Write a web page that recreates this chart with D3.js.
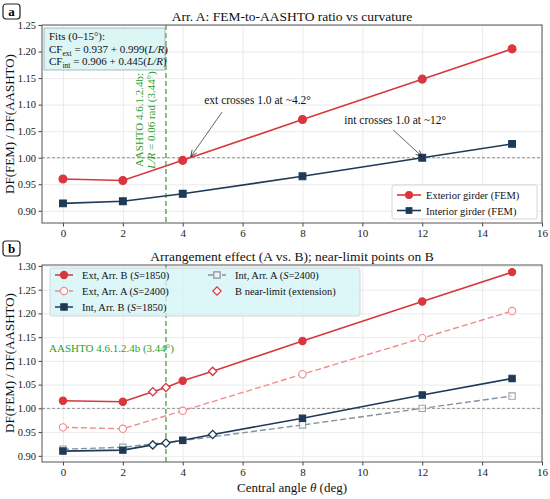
<!DOCTYPE html>
<html>
<head>
<meta charset="utf-8">
<script src="https://cdn.jsdelivr.net/npm/d3@7"></script>
<style>
  body { margin: 0; background: #fff; }
  svg { font-family: 'Liberation Serif', 'DejaVu Serif', serif; }
</style>
</head>
<body>
<div class="display"></div>
<script>
const WIDTH = 550;
const HEIGHT = 499;

const RED = '#d9363e';
const NAVY = '#1f3a56';
const PINK = '#f08a8d';
const GREY = '#8592a0';
const GREEN = '#2ca02c';

// data
const ANGLES = [0, 2, 4, 8, 12, 15];
const EXT_A = [0.960, 0.957, 0.995, 1.072, 1.148, 1.205];
const INT_A = [0.914, 0.918, 0.932, 0.965, 1.000, 1.026];
const EXT_B = [1.016, 1.014, 1.058, 1.142, 1.225, 1.287];
const INT_B = [0.910, 0.912, 0.933, 0.979, 1.028, 1.063];
const NEAR_ANGLES = [3, 3.44, 5];
const NEAR_EXT_B = [1.035, 1.044, 1.078];
const NEAR_INT_B = [0.923, 0.927, 0.945];
const LIMIT_ANGLE = 3.44;

const X_TICKS = [0, 2, 4, 6, 8, 10, 12, 14, 16];
const Y_TICKS_A = [0.90, 0.95, 1.00, 1.05, 1.10, 1.15, 1.20, 1.25];
const Y_TICKS_B = [0.90, 0.95, 1.00, 1.05, 1.10, 1.15, 1.20, 1.25, 1.30];

const svg = d3.select('.display')
  .append('svg')
  .attr('width', WIDTH)
  .attr('height', HEIGHT);

function pts(xs, ys) {
  return xs.map((x, i) => ({ x: x, y: ys[i] }));
}

function merged(xs, ys, nx, ny) {
  return pts(xs, ys).concat(pts(nx, ny)).sort((a, b) => a.x - b.x);
}

function makePanel(box, yDomain, yTicks) {
  const x = d3.scaleLinear().domain([-0.7, 16]).range([box.left, box.right]);
  const y = d3.scaleLinear().domain(yDomain).range([box.bottom, box.top]);
  const g = svg.append('g');

  // grid
  g.append('g')
    .attr('transform', `translate(0, ${box.bottom})`)
    .call(d3.axisBottom(x).tickValues(X_TICKS).tickSize(-(box.bottom - box.top)).tickFormat(''))
    .call(a => a.select('.domain').remove())
    .call(a => a.selectAll('line').attr('stroke', '#e6e6e6').attr('stroke-width', 0.8));
  g.append('g')
    .attr('transform', `translate(${box.left}, 0)`)
    .call(d3.axisLeft(y).tickValues(yTicks).tickSize(-(box.right - box.left)).tickFormat(''))
    .call(a => a.select('.domain').remove())
    .call(a => a.selectAll('line').attr('stroke', '#e6e6e6').attr('stroke-width', 0.8));

  // axes
  g.append('g')
    .attr('transform', `translate(0, ${box.bottom})`)
    .call(d3.axisBottom(x).tickValues(X_TICKS).tickSize(3.5).tickPadding(3).tickFormat(d3.format('d')))
    .call(a => a.select('.domain').remove())
    .call(a => a.selectAll('line').attr('stroke', '#444'))
    .call(a => a.selectAll('text').attr('font-size', 11).attr('font-family', 'Liberation Serif').attr('fill', '#222'));
  g.append('g')
    .attr('transform', `translate(${box.left}, 0)`)
    .call(d3.axisLeft(y).tickValues(yTicks).tickSize(3.5).tickPadding(2.5).tickFormat(d3.format('.2f')))
    .call(a => a.select('.domain').remove())
    .call(a => a.selectAll('line').attr('stroke', '#444'))
    .call(a => a.selectAll('text').attr('font-size', 10.5).attr('font-family', 'Liberation Serif').attr('fill', '#222'));

  // reference line at 1.0 and limit line
  g.append('line')
    .attr('x1', box.left).attr('x2', box.right)
    .attr('y1', y(1)).attr('y2', y(1))
    .attr('stroke', '#888').attr('stroke-width', 0.9).attr('stroke-dasharray', '3,2');
  g.append('line')
    .attr('x1', x(LIMIT_ANGLE)).attr('x2', x(LIMIT_ANGLE))
    .attr('y1', box.top).attr('y2', box.bottom)
    .attr('stroke', GREEN).attr('stroke-width', 1.2).attr('stroke-dasharray', '5,3');

  return { x, y, g, box };
}

function frame(p) {
  p.g.append('rect')
    .attr('x', p.box.left).attr('y', p.box.top)
    .attr('width', p.box.right - p.box.left).attr('height', p.box.bottom - p.box.top)
    .attr('fill', 'none').attr('stroke', '#555').attr('stroke-width', 1);
}

function drawLine(p, data, color, width, dash) {
  p.g.append('path')
    .datum(data)
    .attr('d', d3.line().x(d => p.x(d.x)).y(d => p.y(d.y)))
    .attr('fill', 'none')
    .attr('stroke', color)
    .attr('stroke-width', width)
    .attr('stroke-dasharray', dash || null);
}

function drawMarkers(p, data, shape, size, fill, stroke) {
  p.g.selectAll(null)
    .data(data)
    .enter()
    .append('path')
    .attr('transform', d => `translate(${p.x(d.x)}, ${p.y(d.y)})`)
    .attr('d', d3.symbol().type(shape).size(size))
    .attr('fill', fill)
    .attr('stroke', stroke)
    .attr('stroke-width', 1.1);
}

function diamond(p, data, color) {
  p.g.selectAll(null)
    .data(data)
    .enter()
    .append('path')
    .attr('transform', d => `translate(${p.x(d.x)}, ${p.y(d.y)}) rotate(45)`)
    .attr('d', d3.symbol().type(d3.symbolSquare).size(34))
    .attr('fill', '#fff')
    .attr('stroke', color)
    .attr('stroke-width', 1.3);
}

function panelLabel(txt, x, y) {
  svg.append('rect')
    .attr('x', x).attr('y', y).attr('width', 17).attr('height', 15)
    .attr('rx', 3).attr('fill', '#fff').attr('stroke', '#222').attr('stroke-width', 1.2);
  svg.append('text')
    .attr('x', x + 8.5).attr('y', y + 11.5)
    .attr('text-anchor', 'middle')
    .attr('font-size', 13).attr('font-weight', 'bold')
    .text(txt);
}

function title(txt, yPos) {
  svg.append('text')
    .attr('x', 292).attr('y', yPos)
    .attr('text-anchor', 'middle')
    .attr('font-size', 13.5)
    .attr('fill', '#111')
    .text(txt);
}

function yLabel(yc) {
  svg.append('text')
    .attr('transform', `translate(14, ${yc}) rotate(-90)`)
    .attr('text-anchor', 'middle')
    .attr('font-size', 13)
    .attr('fill', '#111')
    .text('DF(FEM) / DF(AASHTO)');
}

function arrow(p, x1, y1, x2, y2) {
  const ang = Math.atan2(y2 - y1, x2 - x1);
  const h = 7;
  p.g.append('line')
    .attr('x1', x1).attr('y1', y1).attr('x2', x2).attr('y2', y2)
    .attr('stroke', '#222').attr('stroke-width', 0.7);
  p.g.append('path')
    .attr('d', `M${x2 - h * Math.cos(ang - 0.4)},${y2 - h * Math.sin(ang - 0.4)} L${x2},${y2} L${x2 - h * Math.cos(ang + 0.4)},${y2 - h * Math.sin(ang + 0.4)}`)
    .attr('fill', 'none').attr('stroke', '#222').attr('stroke-width', 0.8);
}

// ---------- panel a ----------
const pa = makePanel({ left: 42, right: 542, top: 25, bottom: 223 }, [0.877, 1.25], Y_TICKS_A);

drawLine(pa, pts(ANGLES, EXT_A), RED, 1.6);
drawLine(pa, pts(ANGLES, INT_A), NAVY, 1.6);
drawMarkers(pa, pts(ANGLES, EXT_A), d3.symbolCircle, 50, RED, RED);
drawMarkers(pa, pts(ANGLES, INT_A), d3.symbolSquare, 46, NAVY, NAVY);

// fits box
pa.g.append('rect')
  .attr('x', 44).attr('y', 28).attr('width', 121).attr('height', 42)
  .attr('fill', '#dcf5f5').attr('stroke', '#9aa').attr('stroke-width', 0.8);
const fits = pa.g.append('text').attr('font-size', 11).attr('fill', '#111');
fits.append('tspan').attr('x', 49).attr('y', 40).text('Fits (0–15°):');
const f1 = fits.append('tspan').attr('x', 49).attr('y', 53);
f1.append('tspan').text('CF');
f1.append('tspan').attr('font-size', 7.5).attr('dy', 2.5).text('ext');
f1.append('tspan').attr('dy', -2.5).text(' = 0.937 + 0.999(');
f1.append('tspan').attr('font-style', 'italic').text('L/R');
f1.append('tspan').text(')');
const f2 = fits.append('tspan').attr('x', 49).attr('y', 65);
f2.append('tspan').text('CF');
f2.append('tspan').attr('font-size', 7.5).attr('dy', 2.5).text('int');
f2.append('tspan').attr('dy', -2.5).text(' = 0.906 + 0.445(');
f2.append('tspan').attr('font-style', 'italic').text('L/R');
f2.append('tspan').text(')');

// rotated limit label
const lim = pa.g.append('text')
  .attr('transform', `translate(${pa.x(LIMIT_ANGLE) - 23}, 120) rotate(-90)`)
  .attr('text-anchor', 'middle')
  .attr('font-size', 11)
  .attr('fill', GREEN);
lim.append('tspan').attr('x', 0).attr('y', 0).text('AASHTO 4.6.1.2.4b:');
const lim2 = lim.append('tspan').attr('x', 0).attr('y', 12);
lim2.append('tspan').attr('font-style', 'italic').text('L/R');
lim2.append('tspan').text(' = 0.06 rad (3.44°)');

// annotations
pa.g.append('text')
  .attr('x', pa.x(6.5)).attr('y', pa.y(1.101))
  .attr('text-anchor', 'middle').attr('font-size', 11.5).attr('fill', '#111')
  .text('ext crosses 1.0 at ~4.2°');
arrow(pa, pa.x(6.55) - 37, pa.y(1.101) + 8, pa.x(4.2) + 2, pa.y(1.0) - 1);
pa.g.append('text')
  .attr('x', pa.x(11.1)).attr('y', pa.y(1.0635))
  .attr('text-anchor', 'middle').attr('font-size', 11.5).attr('fill', '#111')
  .text('int crosses 1.0 at ~12°');
arrow(pa, pa.x(11.1) - 2, pa.y(1.0635) + 6, pa.x(12), pa.y(1.0) - 1);

// legend a
const la = pa.g.append('g');
la.append('rect')
  .attr('x', 392).attr('y', 185).attr('width', 145).attr('height', 34).attr('rx', 2)
  .attr('fill', '#fff').attr('stroke', '#ccc').attr('stroke-width', 0.8);
[[RED, d3.symbolCircle, 'Exterior girder (FEM)', 50], [NAVY, d3.symbolSquare, 'Interior girder (FEM)', 46]].forEach((e, i) => {
  const yy = 195 + i * 15.5;
  la.append('line').attr('x1', 397).attr('x2', 421).attr('y1', yy).attr('y2', yy)
    .attr('stroke', e[0]).attr('stroke-width', 1.6);
  la.append('path').attr('transform', `translate(409, ${yy})`)
    .attr('d', d3.symbol().type(e[1]).size(e[3])).attr('fill', e[0]);
  la.append('text').attr('x', 426).attr('y', yy + 4)
    .attr('font-size', 10.5).attr('fill', '#111').text(e[2]);
});
frame(pa);

// ---------- panel b ----------
const pb = makePanel({ left: 42, right: 542, top: 265, bottom: 462 }, [0.887, 1.302], Y_TICKS_B);

drawLine(pb, pts(ANGLES, INT_A), GREY, 1.4, '6,3');
drawLine(pb, pts(ANGLES, EXT_A), PINK, 1.4, '6,3');
drawLine(pb, merged(ANGLES, INT_B, NEAR_ANGLES, NEAR_INT_B), NAVY, 1.6);
drawLine(pb, merged(ANGLES, EXT_B, NEAR_ANGLES, NEAR_EXT_B), RED, 1.6);
drawMarkers(pb, pts(ANGLES, INT_A), d3.symbolSquare, 40, 'rgba(255,255,255,0.6)', '#9aa4ae');
drawMarkers(pb, pts(ANGLES, EXT_A), d3.symbolCircle, 42, '#fff', PINK);
drawMarkers(pb, pts(ANGLES, INT_B), d3.symbolSquare, 40, NAVY, NAVY);
drawMarkers(pb, pts(ANGLES, EXT_B), d3.symbolCircle, 42, RED, RED);
diamond(pb, pts(NEAR_ANGLES, NEAR_INT_B), NAVY);
diamond(pb, pts(NEAR_ANGLES, NEAR_EXT_B), RED);

pb.g.append('text')
  .attr('x', 49).attr('y', 352)
  .attr('font-size', 11).attr('fill', GREEN)
  .text('AASHTO 4.6.1.2.4b (3.44°)');

// legend b
const lb = pb.g.append('g');
lb.append('rect')
  .attr('x', 50).attr('y', 268).attr('width', 310).attr('height', 48).attr('rx', 2)
  .attr('fill', 'rgba(212,244,246,0.8)').attr('stroke', '#ccc').attr('stroke-width', 0.8);

function legendItem(x0, yy, color, dash, shape, fill, label, suffix, rot) {
  if (dash !== 'none') {
    lb.append('line').attr('x1', x0).attr('x2', x0 + 18).attr('y1', yy).attr('y2', yy)
      .attr('stroke', color).attr('stroke-width', 1.5).attr('stroke-dasharray', dash || null);
  }
  lb.append('path').attr('transform', `translate(${x0 + 9}, ${yy}) rotate(${rot || 0})`)
    .attr('d', d3.symbol().type(shape).size(rot ? 34 : 40))
    .attr('fill', fill).attr('stroke', color).attr('stroke-width', 1.2);
  const t = lb.append('text').attr('x', x0 + 27).attr('y', yy + 4)
    .attr('font-size', 10.5).attr('fill', '#111');
  if (suffix) {
    t.append('tspan').text(label + ' (');
    t.append('tspan').attr('font-style', 'italic').text('S');
    t.append('tspan').text('=' + suffix + ')');
  } else {
    t.text(label);
  }
}
legendItem(55, 275, RED, null, d3.symbolCircle, RED, 'Ext, Arr. B', '1850');
legendItem(55, 291, PINK, '5,2', d3.symbolCircle, '#fff', 'Ext, Arr. A', '2400');
legendItem(55, 307, NAVY, null, d3.symbolSquare, NAVY, 'Int, Arr. B', '1850');
legendItem(208, 275, GREY, '5,2', d3.symbolSquare, '#eef0f2', 'Int, Arr. A', '2400');
legendItem(208, 291, RED, 'none', d3.symbolSquare, '#fff', 'B near-limit (extension)', null, 45);
frame(pb);

// ---------- titles and labels ----------
panelLabel('a', 3, 4);
panelLabel('b', 3, 241);
title('Arr. A: FEM-to-AASHTO ratio vs curvature', 21);
title('Arrangement effect (A vs. B); near-limit points on B', 261);
yLabel(124);
yLabel(363);

const xl = svg.append('text')
  .attr('x', 292).attr('y', 492)
  .attr('text-anchor', 'middle')
  .attr('font-size', 13)
  .attr('fill', '#111');
xl.append('tspan').text('Central angle ');
xl.append('tspan').attr('font-style', 'italic').text('θ');
xl.append('tspan').text(' (deg)');
</script>
</body>
</html>
